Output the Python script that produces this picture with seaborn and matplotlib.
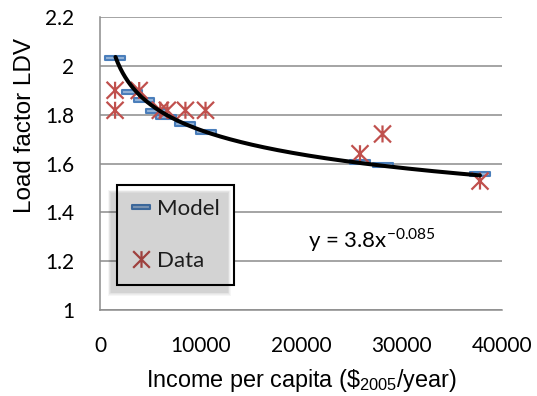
import numpy as np
import pandas as pd
import matplotlib
matplotlib.use("Agg")
import matplotlib.pyplot as plt
from matplotlib.path import Path
from matplotlib.lines import Line2D
from matplotlib.patches import Rectangle
import seaborn as sns

# Model results: load factor of light-duty vehicles by income level
model_income = [1540, 3200, 4400, 5570, 6570, 8460, 10550, 25870, 28110, 37810]
model_lf = [2.031, 1.894, 1.861, 1.816, 1.790, 1.762, 1.731, 1.605, 1.595, 1.555]

# Observed data
data_income = [1500, 1500, 3900, 6000, 6700, 8500, 10500, 25870, 28110, 37810]
data_lf = [1.900, 1.818, 1.899, 1.818, 1.818, 1.818, 1.818, 1.640, 1.721, 1.528]

# Power-law fit y = a * x^b
fit_a = 3.8
fit_b = -0.085

x_ticks = [0, 10000, 20000, 30000, 40000]
x_ticklabels = ["0", "10000", "20000", "30000", "40000"]
y_ticks = [1.0, 1.2, 1.4, 1.6, 1.8, 2.0, 2.2]
y_ticklabels = ["1", "1.2", "1.4", "1.6", "1.8", "2", "2.2"]

BLUE_EDGE = "#4A7EBB"
BLUE_FACE = "#95B3D7"
RED = "#C0504D"
GRID = "#8C8C8C"

sns.set_theme(style="white")
plt.rcParams["font.family"] = ["Lato", "DejaVu Sans"]
plt.rcParams["mathtext.fontset"] = "custom"
plt.rcParams["mathtext.rm"] = "Lato"

# Excel-like markers: flat dash and six-spoke asterisk
dash_marker = Path([(-1, -0.26), (1, -0.26), (1, 0.26), (-1, 0.26), (-1, -0.26)],
                   [Path.MOVETO, Path.LINETO, Path.LINETO, Path.LINETO, Path.CLOSEPOLY])
star_marker = Path([(-1, -1), (1, 1), (-1, 1), (1, -1), (0, -1), (0, 1)],
                   [Path.MOVETO, Path.LINETO, Path.MOVETO, Path.LINETO, Path.MOVETO, Path.LINETO])

model_df = pd.DataFrame({"income": model_income, "lf": model_lf})
data_df = pd.DataFrame({"income": data_income, "lf": data_lf})
fit_x = np.linspace(min(model_income), max(model_income), 300)
fit_df = pd.DataFrame({"income": fit_x, "lf": fit_a * fit_x ** fit_b})

fig = plt.figure(figsize=(5.37, 3.96), dpi=100)
ax = fig.add_axes([100 / 537, 1 - 310 / 396, 402 / 537, 293 / 396])

sns.scatterplot(data=model_df, x="income", y="lf", ax=ax, marker=dash_marker,
                s=190, color=BLUE_FACE, zorder=3, legend=False)
ax.collections[-1].set_edgecolor(BLUE_EDGE)
ax.collections[-1].set_linewidth(1.5)

sns.scatterplot(data=data_df, x="income", y="lf", ax=ax, marker=star_marker,
                s=150, color=RED, zorder=4, legend=False)
ax.collections[-1].set_facecolor("none")
ax.collections[-1].set_edgecolor(RED)
ax.collections[-1].set_linewidth(1.6)

sns.lineplot(data=fit_df, x="income", y="lf", ax=ax, color="black", lw=2.9,
             zorder=5, legend=False)

ax.set_xlim(0, 40000)
ax.set_ylim(1.0, 2.2)
ax.set_xticks(x_ticks)
ax.set_xticklabels(x_ticklabels)
ax.set_yticks(y_ticks)
ax.set_yticklabels(y_ticklabels)
ax.tick_params(axis="both", labelsize=15, colors=GRID, labelcolor="black",
               length=5.5, width=1.1, direction="out")
ax.tick_params(axis="x", pad=13)
ax.tick_params(axis="y", pad=13)

ax.yaxis.grid(True, color=GRID, lw=1.1)
ax.xaxis.grid(False)
ax.set_axisbelow(True)
for side in ["top", "right"]:
    ax.spines[side].set_visible(False)
for side in ["left", "bottom"]:
    ax.spines[side].set_color(GRID)
    ax.spines[side].set_linewidth(1.1)

label_font = ["Liberation Sans", "DejaVu Sans"]
ax.set_xlabel(r"Income per capita (\$$_{\mathregular{2005}}$/year)",
              fontsize=16.8, family=label_font, color="black")
ax.set_ylabel("Load factor LDV", fontsize=17.5, family=label_font, color="black")
ax.xaxis.set_label_coords(0.5, -0.195)
ax.yaxis.set_label_coords(-0.16, 0.63)

ax.text(0.518, 0.215, r"y = 3.8x$^{\mathregular{-0.085}}$", transform=ax.transAxes,
        fontsize=16, color="black", ha="left", va="baseline")

handles = [
    Line2D([], [], ls="none", marker=dash_marker, markersize=12.5,
           markerfacecolor=BLUE_FACE, markeredgecolor=BLUE_EDGE, markeredgewidth=1.5),
    Line2D([], [], ls="none", marker=star_marker, markersize=12,
           markerfacecolor="none", markeredgecolor=RED, markeredgewidth=1.6),
]
leg = ax.legend(handles, ["Model", "Data"], loc="upper left",
                bbox_to_anchor=(0.042, 0.427), borderaxespad=0, fontsize=16,
                frameon=True, fancybox=False, shadow=False, labelspacing=1.45,
                handlelength=0.95, handletextpad=0.25, borderpad=0.62)
leg.get_frame().set_edgecolor("black")
leg.get_frame().set_linewidth(1.5)
leg.get_frame().set_alpha(None)
leg.get_frame().set_facecolor("white")
leg.set_zorder(10)

# Soft drop shadow to the lower left of the legend box
fig.canvas.draw()
bb = leg.get_window_extent()
to_fig = fig.transFigure.inverted()
dx, dy = -6, -8
for grow in np.linspace(3, 0, 5):
    (x0, y0) = to_fig.transform((bb.x0 + dx - grow, bb.y0 + dy - grow))
    (x1, y1) = to_fig.transform((bb.x1 + dx + grow, bb.y1 + dy + grow))
    fig.patches.append(Rectangle((x0, y0), x1 - x0, y1 - y0, transform=fig.transFigure,
                                 facecolor="black", edgecolor="none", alpha=0.035,
                                 zorder=1))

fig.savefig("out.png", dpi=100, facecolor="white")
